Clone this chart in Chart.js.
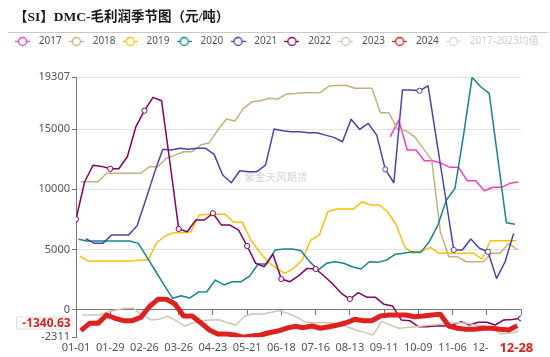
<!DOCTYPE html>
<html><head><meta charset="utf-8">
<script src="https://cdn.jsdelivr.net/npm/chart.js@4.4.1/dist/chart.umd.min.js"></script>
<style>html,body{margin:0;padding:0;background:#fff;}canvas{display:block}</style>
</head><body>
<canvas id="c" width="550" height="357"></canvas>
<script>
// ---------- data ----------
const years = ['2017','2018','2019','2020','2021','2022','2023','2024'];
const avgLabel = '2017-2023均值';
// day-of-year (01-01 = 0) of each series' first weekly observation
const firstDay = [257, 4, 3, 2, 8, 0, 5, 4];
const v2017 = [14360,15750,13260,13260,12370,12370,12150,11820,11820,10710,10710,9880,10160,10160,10490,10600];
const v2018 = [10620,10620,10620,11320,11320,11320,11320,11320,11870,11870,12570,12840,13120,13120,13670,13870,14920,15840,15670,16720,17270,17360,17560,17500,17910,17950,18020,18030,18050,18580,18620,18640,18390,18390,18390,16360,16360,14980,14860,14360,13400,12430,6470,4390,4390,3970,3970,3970,4670,4670,5500,4950];
const v2019 = [4450,4030,4030,4030,4030,4030,4030,4110,4110,5550,6110,6380,6380,6470,7860,7910,7910,7910,7250,7250,5780,4800,3970,3420,3010,3420,4110,5780,6190,8130,8350,8350,8350,8960,8690,8690,8130,7020,5170,4670,4890,5170,4670,4670,4670,4670,4670,4200,5720,5720,5720,5720];
const v2020 = [5840,5690,5690,5690,5690,5690,5690,5500,4350,3200,2050,930,1150,950,1450,1480,2450,2040,2310,2310,2780,3780,3780,4950,5030,5030,4890,4000,3280,3840,3970,3840,3560,3370,3970,3920,4110,4590,4670,4800,4750,5640,7020,9100,10070,14500,19307,18520,17970,12600,7220,7080];
const v2021 = [5900,5500,5500,6190,6190,6190,6970,9100,11320,13320,13260,13400,13330,13400,13400,12900,11180,10540,11540,11460,11460,12010,15000,14860,14780,14780,14700,14700,14500,14310,13950,15810,14980,15480,14500,11650,10540,18250,18250,18190,18600,14050,9500,4950,4950,5860,5090,4800,2590,3970,6330];
const v2022 = [7500,10600,12000,11900,11700,11700,12700,15200,16530,17640,17360,12100,6700,6470,7440,7440,8000,7020,7020,6600,5280,3840,3560,4610,2535,2310,2800,3420,3370,2785,2120,1350,873,1400,1010,1010,430,290,-870,-930,-1430,-1430,-1370,-1370,-1290,-1010,-1290,-1060,-1060,-1290,-870,-830,-730];
const v2023 = [-450,-450,-460,-200,-50,100,100,-450,-870,-820,-550,-950,-1370,-1100,-930,-870,-850,-1100,-1290,-540,-350,-400,-250,-100,-300,-600,-1010,-1100,-1100,-1100,-1250,-1430,-1700,-1900,-2120,-1010,-1290,-1560,-1500,-1430,-1350,-1290,-1200,-1150,-1100,-1150,-1300,-1370,-1560,-2050,-1950,-1850];
const v2024 = [-1750,-1150,-1150,-460,-730,-930,-930,-650,230,850,850,460,-540,-540,-1100,-1700,-2040,-2040,-2120,-2311,-2200,-2120,-1930,-1790,-1560,-1400,-1510,-1370,-1560,-1430,-1290,-1100,-815,-930,-930,-540,-460,-460,-460,-600,-540,-460,-400,-1370,-1560,-1650,-1650,-1560,-1560,-1650,-1700,-1340.63];
const xTickDays   = [0,28,56,84,112,140,168,196,224,252,280,308,336,364];
const xTickLabels = ['01-01','01-29','02-26','03-26','04-23','05-21','06-18','07-16','08-13','09-11','10-09','11-06','12-04',''];
const yTickValues = [-2311,0,5000,10000,15000,19307];
const latestDate = '12-28';
const latestValue = -1340.63;

// ---------- style ----------
const colors = ['#fb3cc0','#c4b27a','#ffc000','#12878b','#4f40ae','#880062','#d3c5b3','#e0201e'];
const avgColor = '#d8d8d8';
const markerIdx = {4:[35,39,43,47], 5:[0,4,8,12,16,20,24,28,32,52]};
const FONT = "'Noto Sans','Noto Sans CJK SC',sans-serif";
const series = [v2017,v2018,v2019,v2020,v2021,v2022,v2023,v2024];

function legendIcon(color){
  const c = document.createElement('canvas'); c.width = 15; c.height = 11;
  const g = c.getContext('2d');
  g.strokeStyle = color; g.lineWidth = 1.3;
  g.beginPath(); g.moveTo(0,5.5); g.lineTo(15,5.5); g.stroke();
  g.beginPath(); g.arc(7.5,5.5,4,0,Math.PI*2); g.fillStyle='#fff'; g.fill(); g.stroke();
  return c;
}
const icons = colors.map(legendIcon).concat([legendIcon(avgColor)]);

const datasets = series.map((vals,i)=>({
  label: years[i],
  data: vals.map((v,k)=>({x: firstDay[i] + 7*k, y: v})),
  xAxisID: 'x', yAxisID: 'y',
  borderColor: colors[i], backgroundColor: colors[i],
  borderWidth: i===7 ? 5 : 1.5,
  borderJoinStyle: 'round', borderCapStyle: 'butt',
  tension: 0, fill: false,
  order: 7 - i,
  pointRadius: ctx => (markerIdx[i] && markerIdx[i].includes(ctx.dataIndex)) ? 2.6 : 0,
  pointHoverRadius: 0,
  pointBackgroundColor: '#fff', pointBorderColor: colors[i], pointBorderWidth: 1
}));
datasets.push({label: avgLabel, data: [], hidden: true, xAxisID:'x', yAxisID:'y',
  borderColor: avgColor, backgroundColor: avgColor, order: 8});

const deco = {
  id: 'deco',
  beforeInit(chart){
    const orig = chart.legend.fit;
    chart.legend.fit = function(){ orig.call(this); this.height = 44.3; };
  },
  beforeDatasetsDraw(chart){
    const {ctx} = chart;
    ctx.save();
    ctx.font = "10.5px 'Noto Sans CJK SC'";
    ctx.fillStyle = '#d4d4d4'; ctx.textAlign = 'center'; ctx.textBaseline = 'middle';
    ctx.fillText('紫金天风期货', 276, 177);
    ctx.restore();
  },
  afterDraw(chart){
    const {ctx, scales} = chart;
    ctx.save();
    // title
    ctx.font = "bold 13.5px 'Liberation Serif','Noto Sans CJK SC',serif";
    ctx.fillStyle = '#1a1a1a'; ctx.textBaseline = 'middle'; ctx.textAlign = 'left';
    ctx.fillText('【SI】DMC-毛利润季节图（元/吨）', 14, 18);
    ctx.strokeStyle = '#c8c8c8'; ctx.lineWidth = 1;
    ctx.beginPath(); ctx.moveTo(8, 32.5); ctx.lineTo(548, 32.5); ctx.stroke();
    // latest value tag on y axis
    const yc = scales.y.getPixelForValue(latestValue) - 2.5;
    ctx.beginPath();
    ctx.moveTo(16.5, yc-6); ctx.lineTo(67, yc-6); ctx.lineTo(73, yc); ctx.lineTo(67, yc+6); ctx.lineTo(16.5, yc+6); ctx.closePath();
    ctx.fillStyle = '#fff'; ctx.fill(); ctx.strokeStyle = '#dcdcdc'; ctx.stroke();
    ctx.font = "bold 12px " + FONT; ctx.fillStyle = '#e0201e'; ctx.textAlign = 'center';
    ctx.fillText(String(latestValue), 46.5, yc);
    // latest date tag on x axis
    const xl = scales.x.getPixelForValue(firstDay[7] + 7*(v2024.length-1));
    ctx.fillStyle = '#fff'; ctx.fillRect(488, 340, 56, 17);
    ctx.font = "bold 13px " + FONT; ctx.fillStyle = '#e0201e';
    ctx.fillText(latestDate, xl - 1, 348);
    ctx.restore();
  }
};

new Chart(document.getElementById('c'), {
  type: 'line',
  data: {datasets},
  options: {
    responsive: false, animation: false, devicePixelRatio: 1,
    layout: {padding: {top: 33, left: 0, right: 0, bottom: 0}},
    plugins: {
      title: {display: false},
      tooltip: {enabled: false},
      legend: {
        position: 'top', onClick: null,
        labels: {
          usePointStyle: true, pointStyleWidth: 22.6, boxHeight: 11,
          padding: 3.4, color: '#555', font: {size: 10, family: FONT},
          sort: (a, b) => a.datasetIndex - b.datasetIndex,
          generateLabels(chart){
            const items = Chart.defaults.plugins.legend.labels.generateLabels(chart);
            items.forEach(it=>{
              it.pointStyle = icons[it.datasetIndex];
              if (it.datasetIndex === 8){ it.hidden = false; it.fontColor = '#cfcfcf'; }
            });
            return items;
          }
        }
      }
    },
    scales: {
      x: {
        type: 'linear', position: 'bottom', min: 0, max: 364,
        afterBuildTicks(s){ s.ticks = xTickDays.map(v=>({value: v})); },
        afterFit(s){ s.height = 19.7; },
        grid: {display: false, drawTicks: false},
        border: {display: false},
        ticks: {autoSkip: false, maxRotation: 0, padding: 4, color: '#555', font: {size: 11, family: FONT},
          callback: (v, i) => xTickLabels[i]}
      },
      x2: {
        type: 'linear', position: {y: 0}, min: 0, max: 364,
        afterBuildTicks(s){ s.ticks = xTickDays.map(v=>({value: v})); },
        grid: {drawOnChartArea: false, drawTicks: true, tickLength: 5, tickColor: '#777'},
        border: {display: true, color: '#777', width: 1},
        ticks: {display: false}
      },
      y: {
        type: 'linear', position: 'left', min: -2311, max: 19307,
        afterBuildTicks(s){ s.ticks = yTickValues.map(v=>({value: v})); },
        afterFit(s){ s.width = 76; },
        grid: {color: c => (c.tick && (c.tick.value === 0 || c.tick.value === -2311)) ? 'rgba(0,0,0,0)' : '#e2e2e2',
               tickColor: '#777', tickLength: 4, drawTicks: true},
        border: {display: true, color: '#777', width: 1},
        ticks: {padding: 2, color: '#555', font: {size: 11, family: FONT}, callback: v => String(v)}
      },
      yR: {
        type: 'linear', position: 'right', min: -2311, max: 19307,
        afterFit(s){ s.width = 29; },
        grid: {display: false, drawTicks: false},
        border: {display: false},
        ticks: {display: false}
      }
    }
  },
  plugins: [deco]
});
</script>
</body></html>
